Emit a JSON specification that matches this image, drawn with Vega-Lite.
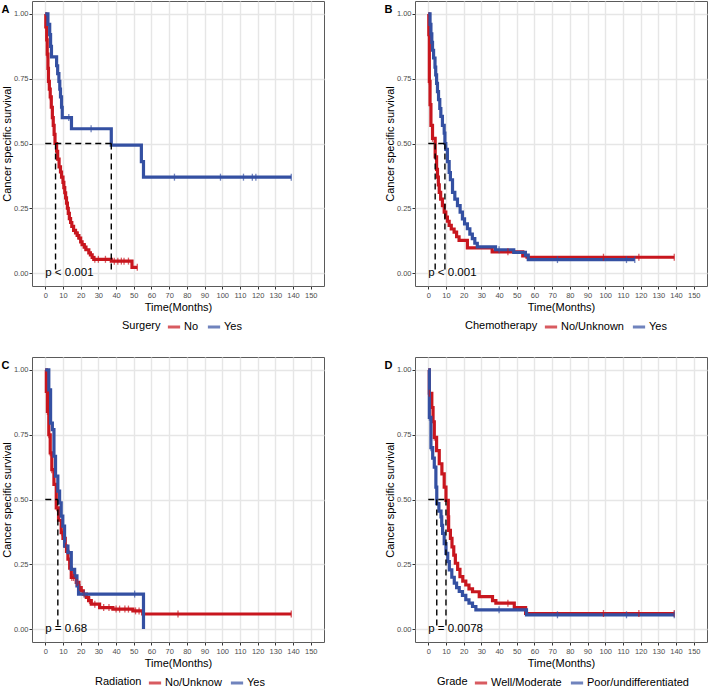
{
"$schema": "https://vega.github.io/schema/vega-lite/v6.json",
"background": "white",
"padding": {"left": 0, "top": 0, "right": 0, "bottom": 0},
"columns": 2,
"spacing": {"row": 22, "column": 58},
"resolve": {"scale": {"color": "independent"}},
"config": {
  "font": "Liberation Sans",
  "view": {"stroke": "#5a5a5a", "strokeWidth": 1},
  "axis": {"domain": false, "gridColor": "#E6E6E6", "tickColor": "#333333", "tickSize": 3, "labelColor": "#4D4D4D", "labelFontSize": 7.5, "titleFontSize": 11, "titleFontWeight": "normal", "titleColor": "black", "labelOverlap": false, "gridWidth": 1.4},
  "axisX": {"labelPadding": 2, "titlePadding": 3, "labelFlush": false},
  "axisY": {"labelPadding": 1, "titlePadding": 1},
  "legend": {"orient": "none", "direction": "horizontal", "titleOrient": "left", "titleFontSize": 11, "titleFontWeight": "normal", "titleColor": "black", "labelFontSize": 11, "labelColor": "black", "symbolType": "stroke", "symbolStrokeWidth": 3, "symbolSize": 150, "columnPadding": 2, "labelOffset": 2, "titlePadding": 5},
  "title": {"anchor": "start", "frame": "bounds", "offset": -14, "fontSize": 11, "fontWeight": "bold", "color": "black"}
},
"datasets": {
  "curves": [
    {"p":"A","g":"No","t":0,"s":1},{"p":"A","g":"No","t":0.3,"s":0.95},{"p":"A","g":"No","t":0.8,"s":0.9},{"p":"A","g":"No","t":1.1,"s":0.845},{"p":"A","g":"No","t":1.5,"s":0.79},{"p":"A","g":"No","t":1.8,"s":0.74},{"p":"A","g":"No","t":2.3,"s":0.71},{"p":"A","g":"No","t":2.8,"s":0.68},{"p":"A","g":"No","t":3.4,"s":0.64},{"p":"A","g":"No","t":4.0,"s":0.6},{"p":"A","g":"No","t":4.5,"s":0.57},{"p":"A","g":"No","t":5.0,"s":0.535},{"p":"A","g":"No","t":5.5,"s":0.5},{"p":"A","g":"No","t":6.4,"s":0.47},{"p":"A","g":"No","t":7.0,"s":0.44},{"p":"A","g":"No","t":7.8,"s":0.41},{"p":"A","g":"No","t":8.6,"s":0.39},{"p":"A","g":"No","t":9.2,"s":0.37},{"p":"A","g":"No","t":10.0,"s":0.35},{"p":"A","g":"No","t":10.5,"s":0.33},{"p":"A","g":"No","t":11.0,"s":0.31},{"p":"A","g":"No","t":11.5,"s":0.29},{"p":"A","g":"No","t":12.0,"s":0.27},{"p":"A","g":"No","t":12.5,"s":0.25},{"p":"A","g":"No","t":13.0,"s":0.23},{"p":"A","g":"No","t":13.6,"s":0.21},{"p":"A","g":"No","t":14.3,"s":0.195},{"p":"A","g":"No","t":15.0,"s":0.18},{"p":"A","g":"No","t":16.0,"s":0.165},{"p":"A","g":"No","t":17.1,"s":0.155},{"p":"A","g":"No","t":18.0,"s":0.145},{"p":"A","g":"No","t":19.0,"s":0.135},{"p":"A","g":"No","t":20.0,"s":0.12},{"p":"A","g":"No","t":20.8,"s":0.11},{"p":"A","g":"No","t":22.0,"s":0.1},{"p":"A","g":"No","t":23.0,"s":0.09},{"p":"A","g":"No","t":24.6,"s":0.078},{"p":"A","g":"No","t":25.5,"s":0.07},{"p":"A","g":"No","t":26.5,"s":0.06},{"p":"A","g":"No","t":27.4,"s":0.053},{"p":"A","g":"No","t":37.3,"s":0.046},{"p":"A","g":"No","t":49.0,"s":0.022},{"p":"A","g":"No","t":52.0,"s":0.022},
    {"p":"A","g":"Yes","t":0,"s":1},{"p":"A","g":"Yes","t":1.5,"s":0.96},{"p":"A","g":"Yes","t":2.5,"s":0.92},{"p":"A","g":"Yes","t":3.0,"s":0.875},{"p":"A","g":"Yes","t":3.5,"s":0.834},{"p":"A","g":"Yes","t":6.4,"s":0.8},{"p":"A","g":"Yes","t":7.0,"s":0.77},{"p":"A","g":"Yes","t":7.7,"s":0.74},{"p":"A","g":"Yes","t":8.2,"s":0.71},{"p":"A","g":"Yes","t":8.6,"s":0.68},{"p":"A","g":"Yes","t":9.2,"s":0.64},{"p":"A","g":"Yes","t":9.6,"s":0.6},{"p":"A","g":"Yes","t":14.8,"s":0.557},{"p":"A","g":"Yes","t":37.3,"s":0.494},{"p":"A","g":"Yes","t":54.3,"s":0.43},{"p":"A","g":"Yes","t":55.5,"s":0.37},{"p":"A","g":"Yes","t":139,"s":0.37},
    {"p":"B","g":"No/Unknown","t":0,"s":1},{"p":"B","g":"No/Unknown","t":0.3,"s":0.92},{"p":"B","g":"No/Unknown","t":0.6,"s":0.74},{"p":"B","g":"No/Unknown","t":1.0,"s":0.65},{"p":"B","g":"No/Unknown","t":1.5,"s":0.57},{"p":"B","g":"No/Unknown","t":2.4,"s":0.52},{"p":"B","g":"No/Unknown","t":3.9,"s":0.448},{"p":"B","g":"No/Unknown","t":4.7,"s":0.4},{"p":"B","g":"No/Unknown","t":5.2,"s":0.37},{"p":"B","g":"No/Unknown","t":5.7,"s":0.34},{"p":"B","g":"No/Unknown","t":6.2,"s":0.311},{"p":"B","g":"No/Unknown","t":7.0,"s":0.285},{"p":"B","g":"No/Unknown","t":8.0,"s":0.26},{"p":"B","g":"No/Unknown","t":9.0,"s":0.235},{"p":"B","g":"No/Unknown","t":9.9,"s":0.216},{"p":"B","g":"No/Unknown","t":10.8,"s":0.2},{"p":"B","g":"No/Unknown","t":11.8,"s":0.184},{"p":"B","g":"No/Unknown","t":13.0,"s":0.17},{"p":"B","g":"No/Unknown","t":14.6,"s":0.158},{"p":"B","g":"No/Unknown","t":16.0,"s":0.14},{"p":"B","g":"No/Unknown","t":17.4,"s":0.126},{"p":"B","g":"No/Unknown","t":22.1,"s":0.097},{"p":"B","g":"No/Unknown","t":36.1,"s":0.082},{"p":"B","g":"No/Unknown","t":53.4,"s":0.066},{"p":"B","g":"No/Unknown","t":55.8,"s":0.061},{"p":"B","g":"No/Unknown","t":139,"s":0.061},
    {"p":"B","g":"Yes","t":0,"s":1},{"p":"B","g":"Yes","t":1.0,"s":0.96},{"p":"B","g":"Yes","t":1.5,"s":0.923},{"p":"B","g":"Yes","t":2.0,"s":0.89},{"p":"B","g":"Yes","t":2.4,"s":0.86},{"p":"B","g":"Yes","t":3.0,"s":0.83},{"p":"B","g":"Yes","t":3.8,"s":0.795},{"p":"B","g":"Yes","t":4.2,"s":0.765},{"p":"B","g":"Yes","t":4.7,"s":0.732},{"p":"B","g":"Yes","t":5.2,"s":0.7},{"p":"B","g":"Yes","t":5.8,"s":0.669},{"p":"B","g":"Yes","t":6.5,"s":0.635},{"p":"B","g":"Yes","t":7.1,"s":0.605},{"p":"B","g":"Yes","t":8.0,"s":0.57},{"p":"B","g":"Yes","t":9.0,"s":0.54},{"p":"B","g":"Yes","t":9.4,"s":0.5},{"p":"B","g":"Yes","t":9.9,"s":0.477},{"p":"B","g":"Yes","t":10.8,"s":0.43},{"p":"B","g":"Yes","t":11.8,"s":0.388},{"p":"B","g":"Yes","t":12.5,"s":0.36},{"p":"B","g":"Yes","t":13.7,"s":0.311},{"p":"B","g":"Yes","t":15.0,"s":0.285},{"p":"B","g":"Yes","t":16.5,"s":0.26},{"p":"B","g":"Yes","t":18.0,"s":0.235},{"p":"B","g":"Yes","t":19.3,"s":0.209},{"p":"B","g":"Yes","t":20.5,"s":0.19},{"p":"B","g":"Yes","t":22.1,"s":0.171},{"p":"B","g":"Yes","t":23.5,"s":0.15},{"p":"B","g":"Yes","t":24.9,"s":0.133},{"p":"B","g":"Yes","t":26.3,"s":0.115},{"p":"B","g":"Yes","t":27.7,"s":0.101},{"p":"B","g":"Yes","t":38,"s":0.09},{"p":"B","g":"Yes","t":48.3,"s":0.08},{"p":"B","g":"Yes","t":54.9,"s":0.069},{"p":"B","g":"Yes","t":56.5,"s":0.052},{"p":"B","g":"Yes","t":116.7,"s":0.052},
    {"p":"C","g":"No/Unknow","t":0,"s":1},{"p":"C","g":"No/Unknow","t":0.6,"s":0.917},{"p":"C","g":"No/Unknow","t":1.2,"s":0.84},{"p":"C","g":"No/Unknow","t":2.0,"s":0.75},{"p":"C","g":"No/Unknow","t":2.8,"s":0.68},{"p":"C","g":"No/Unknow","t":3.7,"s":0.615},{"p":"C","g":"No/Unknow","t":4.9,"s":0.558},{"p":"C","g":"No/Unknow","t":6.2,"s":0.468},{"p":"C","g":"No/Unknow","t":7.5,"s":0.42},{"p":"C","g":"No/Unknow","t":9.0,"s":0.372},{"p":"C","g":"No/Unknow","t":10.0,"s":0.35},{"p":"C","g":"No/Unknow","t":11.3,"s":0.32},{"p":"C","g":"No/Unknow","t":12.0,"s":0.3},{"p":"C","g":"No/Unknow","t":12.8,"s":0.27},{"p":"C","g":"No/Unknow","t":13.8,"s":0.235},{"p":"C","g":"No/Unknow","t":14.7,"s":0.199},{"p":"C","g":"No/Unknow","t":17.5,"s":0.18},{"p":"C","g":"No/Unknow","t":19.0,"s":0.16},{"p":"C","g":"No/Unknow","t":20.3,"s":0.147},{"p":"C","g":"No/Unknow","t":21.5,"s":0.135},{"p":"C","g":"No/Unknow","t":23.2,"s":0.122},{"p":"C","g":"No/Unknow","t":24.5,"s":0.11},{"p":"C","g":"No/Unknow","t":26.0,"s":0.096},{"p":"C","g":"No/Unknow","t":30.7,"s":0.083},{"p":"C","g":"No/Unknow","t":38.2,"s":0.077},{"p":"C","g":"No/Unknow","t":49.5,"s":0.07},{"p":"C","g":"No/Unknow","t":55.1,"s":0.058},{"p":"C","g":"No/Unknow","t":139,"s":0.058},
    {"p":"C","g":"Yes","t":0,"s":1},{"p":"C","g":"Yes","t":2.0,"s":0.923},{"p":"C","g":"Yes","t":3.0,"s":0.795},{"p":"C","g":"Yes","t":4.0,"s":0.77},{"p":"C","g":"Yes","t":4.9,"s":0.667},{"p":"C","g":"Yes","t":5.8,"s":0.59},{"p":"C","g":"Yes","t":7.1,"s":0.532},{"p":"C","g":"Yes","t":8.1,"s":0.487},{"p":"C","g":"Yes","t":9.0,"s":0.436},{"p":"C","g":"Yes","t":9.9,"s":0.397},{"p":"C","g":"Yes","t":10.9,"s":0.32},{"p":"C","g":"Yes","t":12.8,"s":0.295},{"p":"C","g":"Yes","t":14.7,"s":0.23},{"p":"C","g":"Yes","t":16.6,"s":0.205},{"p":"C","g":"Yes","t":17.9,"s":0.167},{"p":"C","g":"Yes","t":18.8,"s":0.135},{"p":"C","g":"Yes","t":55.5,"s":0},
    {"p":"D","g":"Well/Moderate","t":0,"s":1},{"p":"D","g":"Well/Moderate","t":0.6,"s":0.91},{"p":"D","g":"Well/Moderate","t":2.0,"s":0.855},{"p":"D","g":"Well/Moderate","t":2.7,"s":0.8},{"p":"D","g":"Well/Moderate","t":3.4,"s":0.74},{"p":"D","g":"Well/Moderate","t":4.7,"s":0.689},{"p":"D","g":"Well/Moderate","t":6.2,"s":0.638},{"p":"D","g":"Well/Moderate","t":7.7,"s":0.599},{"p":"D","g":"Well/Moderate","t":9.0,"s":0.548},{"p":"D","g":"Well/Moderate","t":10.0,"s":0.497},{"p":"D","g":"Well/Moderate","t":11.3,"s":0.433},{"p":"D","g":"Well/Moderate","t":11.5,"s":0.381},{"p":"D","g":"Well/Moderate","t":12.5,"s":0.35},{"p":"D","g":"Well/Moderate","t":13.4,"s":0.317},{"p":"D","g":"Well/Moderate","t":14.4,"s":0.285},{"p":"D","g":"Well/Moderate","t":15.3,"s":0.254},{"p":"D","g":"Well/Moderate","t":16.6,"s":0.23},{"p":"D","g":"Well/Moderate","t":17.9,"s":0.202},{"p":"D","g":"Well/Moderate","t":19.5,"s":0.185},{"p":"D","g":"Well/Moderate","t":21.2,"s":0.17},{"p":"D","g":"Well/Moderate","t":23.0,"s":0.155},{"p":"D","g":"Well/Moderate","t":25.0,"s":0.144},{"p":"D","g":"Well/Moderate","t":28.8,"s":0.125},{"p":"D","g":"Well/Moderate","t":36.3,"s":0.11},{"p":"D","g":"Well/Moderate","t":38.2,"s":0.1},{"p":"D","g":"Well/Moderate","t":48.6,"s":0.083},{"p":"D","g":"Well/Moderate","t":55.0,"s":0.06},{"p":"D","g":"Well/Moderate","t":139,"s":0.06},
    {"p":"D","g":"Poor/undifferentiated","t":0,"s":1},{"p":"D","g":"Poor/undifferentiated","t":0.6,"s":0.817},{"p":"D","g":"Poor/undifferentiated","t":1.5,"s":0.7},{"p":"D","g":"Poor/undifferentiated","t":2.5,"s":0.66},{"p":"D","g":"Poor/undifferentiated","t":3.4,"s":0.625},{"p":"D","g":"Poor/undifferentiated","t":4.3,"s":0.548},{"p":"D","g":"Poor/undifferentiated","t":4.8,"s":0.484},{"p":"D","g":"Poor/undifferentiated","t":6.0,"s":0.455},{"p":"D","g":"Poor/undifferentiated","t":7.2,"s":0.433},{"p":"D","g":"Poor/undifferentiated","t":7.6,"s":0.4},{"p":"D","g":"Poor/undifferentiated","t":8.1,"s":0.369},{"p":"D","g":"Poor/undifferentiated","t":9.0,"s":0.33},{"p":"D","g":"Poor/undifferentiated","t":10.0,"s":0.292},{"p":"D","g":"Poor/undifferentiated","t":11.0,"s":0.26},{"p":"D","g":"Poor/undifferentiated","t":11.9,"s":0.228},{"p":"D","g":"Poor/undifferentiated","t":13.3,"s":0.2},{"p":"D","g":"Poor/undifferentiated","t":14.7,"s":0.177},{"p":"D","g":"Poor/undifferentiated","t":16.0,"s":0.16},{"p":"D","g":"Poor/undifferentiated","t":17.5,"s":0.145},{"p":"D","g":"Poor/undifferentiated","t":19.3,"s":0.13},{"p":"D","g":"Poor/undifferentiated","t":21.2,"s":0.113},{"p":"D","g":"Poor/undifferentiated","t":23.0,"s":0.1},{"p":"D","g":"Poor/undifferentiated","t":25.0,"s":0.087},{"p":"D","g":"Poor/undifferentiated","t":26.9,"s":0.074},{"p":"D","g":"Poor/undifferentiated","t":55.5,"s":0.055},{"p":"D","g":"Poor/undifferentiated","t":139,"s":0.055}
  ],
  "censor": [
    {"p":"A","g":"No","t":1.1,"s":0.845},{"p":"A","g":"No","t":1.8,"s":0.74},{"p":"A","g":"No","t":2.8,"s":0.68},{"p":"A","g":"No","t":10.2,"s":0.35},{"p":"A","g":"No","t":13.3,"s":0.23},{"p":"A","g":"No","t":18.5,"s":0.145},{"p":"A","g":"No","t":22.5,"s":0.1},{"p":"A","g":"No","t":28,"s":0.053},{"p":"A","g":"No","t":30,"s":0.053},{"p":"A","g":"No","t":34,"s":0.053},{"p":"A","g":"No","t":39,"s":0.046},{"p":"A","g":"No","t":41,"s":0.046},{"p":"A","g":"No","t":43,"s":0.046},{"p":"A","g":"No","t":44.5,"s":0.046},{"p":"A","g":"No","t":47,"s":0.046},{"p":"A","g":"No","t":52,"s":0.022},
    {"p":"A","g":"Yes","t":13.3,"s":0.6},{"p":"A","g":"Yes","t":25.9,"s":0.557},{"p":"A","g":"Yes","t":73,"s":0.37},{"p":"A","g":"Yes","t":99,"s":0.37},{"p":"A","g":"Yes","t":112,"s":0.37},{"p":"A","g":"Yes","t":117,"s":0.37},{"p":"A","g":"Yes","t":119,"s":0.37},{"p":"A","g":"Yes","t":139,"s":0.37},
    {"p":"B","g":"No/Unknown","t":0.6,"s":0.74},{"p":"B","g":"No/Unknown","t":2.4,"s":0.52},{"p":"B","g":"No/Unknown","t":45,"s":0.082},{"p":"B","g":"No/Unknown","t":99,"s":0.061},{"p":"B","g":"No/Unknown","t":119,"s":0.061},{"p":"B","g":"No/Unknown","t":139,"s":0.061},
    {"p":"B","g":"Yes","t":1.5,"s":0.923},{"p":"B","g":"Yes","t":40,"s":0.09},{"p":"B","g":"Yes","t":73,"s":0.052},{"p":"B","g":"Yes","t":112,"s":0.052},{"p":"B","g":"Yes","t":116.7,"s":0.052},
    {"p":"C","g":"No/Unknow","t":1.2,"s":0.84},{"p":"C","g":"No/Unknow","t":2.0,"s":0.75},{"p":"C","g":"No/Unknow","t":2.8,"s":0.68},{"p":"C","g":"No/Unknow","t":3.7,"s":0.615},{"p":"C","g":"No/Unknow","t":6.5,"s":0.468},{"p":"C","g":"No/Unknow","t":9.5,"s":0.372},{"p":"C","g":"No/Unknow","t":11.5,"s":0.32},{"p":"C","g":"No/Unknow","t":15,"s":0.199},{"p":"C","g":"No/Unknow","t":16,"s":0.199},{"p":"C","g":"No/Unknow","t":18,"s":0.18},{"p":"C","g":"No/Unknow","t":19.5,"s":0.16},{"p":"C","g":"No/Unknow","t":22,"s":0.135},{"p":"C","g":"No/Unknow","t":25,"s":0.11},{"p":"C","g":"No/Unknow","t":28,"s":0.096},{"p":"C","g":"No/Unknow","t":33,"s":0.083},{"p":"C","g":"No/Unknow","t":36,"s":0.083},{"p":"C","g":"No/Unknow","t":40,"s":0.077},{"p":"C","g":"No/Unknow","t":42,"s":0.077},{"p":"C","g":"No/Unknow","t":45,"s":0.077},{"p":"C","g":"No/Unknow","t":47,"s":0.077},{"p":"C","g":"No/Unknow","t":51,"s":0.07},{"p":"C","g":"No/Unknow","t":53,"s":0.07},{"p":"C","g":"No/Unknow","t":75,"s":0.058},{"p":"C","g":"No/Unknow","t":139,"s":0.058},
    {"p":"C","g":"Yes","t":22,"s":0.135},{"p":"C","g":"Yes","t":50.5,"s":0.135},
    {"p":"D","g":"Well/Moderate","t":0.6,"s":0.91},{"p":"D","g":"Well/Moderate","t":3.4,"s":0.74},{"p":"D","g":"Well/Moderate","t":45,"s":0.1},{"p":"D","g":"Well/Moderate","t":99,"s":0.06},{"p":"D","g":"Well/Moderate","t":119,"s":0.06},{"p":"D","g":"Well/Moderate","t":139,"s":0.06},
    {"p":"D","g":"Poor/undifferentiated","t":0.6,"s":0.817},{"p":"D","g":"Poor/undifferentiated","t":1.5,"s":0.7},{"p":"D","g":"Poor/undifferentiated","t":40,"s":0.074},{"p":"D","g":"Poor/undifferentiated","t":73,"s":0.055},{"p":"D","g":"Poor/undifferentiated","t":112,"s":0.055},{"p":"D","g":"Poor/undifferentiated","t":139,"s":0.055}
  ],
  "medians": [
    {"p":"A","t1":0,"t2":37.3,"s1":0.5,"s2":0.5},{"p":"A","t1":5.8,"t2":5.8,"s1":0.5,"s2":0},{"p":"A","t1":37.3,"t2":37.3,"s1":0.5,"s2":0},
    {"p":"B","t1":0,"t2":9.4,"s1":0.5,"s2":0.5},{"p":"B","t1":3.9,"t2":3.9,"s1":0.5,"s2":0},{"p":"B","t1":9.4,"t2":9.4,"s1":0.5,"s2":0},
    {"p":"C","t1":0,"t2":7.1,"s1":0.5,"s2":0.5},{"p":"C","t1":7.1,"t2":7.1,"s1":0.5,"s2":0},
    {"p":"D","t1":0,"t2":10,"s1":0.5,"s2":0.5},{"p":"D","t1":4.8,"t2":4.8,"s1":0.5,"s2":0},{"p":"D","t1":10,"t2":10,"s1":0.5,"s2":0}
  ],
  "pv": [
    {"p":"A","label":"p < 0.001"},{"p":"B","label":"p < 0.001"},{"p":"C","label":"p = 0.68"},{"p":"D","label":"p = 0.0078"}
  ]
},
"concat": [
  {
    "width": 292, "height": 285, "title": {"text": "A"},
    "resolve": {"axis": {"x": "independent"}},
    "layer": [
      {"data": {"name": "curves"}, "transform": [{"filter": "datum.p === 'A'"}],
       "mark": {"type": "line", "interpolate": "step-after", "strokeWidth": 3.2},
       "encoding": {
         "x": {"field": "t", "type": "quantitative", "scale": {"domain": [-7.5, 157.5], "nice": false, "zero": false},
               "axis": {"title": "Time(Months)", "values": [0,10,20,30,40,50,60,70,80,90,100,110,120,130,140,150]}},
         "y": {"field": "s", "type": "quantitative", "scale": {"domain": [-0.05, 1.05], "nice": false, "zero": false},
               "axis": {"title": "Cancer specific survival", "values": [0,0.125,0.25,0.375,0.5,0.625,0.75,0.875,1], "format": ".2f", "labelExpr": "(datum.value*4) % 1 === 0 ? datum.label : ''", "tickOpacity": {"condition": {"test": "(datum.value*4) % 1 === 0", "value": 1}, "value": 0}, "gridWidth": {"condition": {"test": "(datum.value*4) % 1 === 0", "value": 1.4}, "value": 0.8}}},
         "color": {"field": "g", "type": "nominal", "scale": {"domain": ["No", "Yes"], "range": ["#C8161E", "#3450A2"]}, "legend": {"title": "Surgery", "legendX": 90, "legendY": 318}}
       }},
      {"data": {"name": "censor"}, "transform": [{"filter": "datum.p === 'A'"}],
       "mark": {"type": "tick", "orient": "vertical", "size": 7, "thickness": 1.3},
       "encoding": {"x": {"field": "t", "type": "quantitative", "axis": {"orient": "top", "values": [5,15,25,35,45,55,65,75,85,95,105,115,125,135,145], "labels": false, "ticks": false, "title": null, "gridWidth": 0.8}}, "y": {"field": "s", "type": "quantitative"}, "color": {"field": "g", "type": "nominal"}}},
      {"data": {"name": "medians"}, "transform": [{"filter": "datum.p === 'A'"}],
       "mark": {"type": "rule", "strokeDash": [6, 4], "strokeWidth": 1.4, "color": "black"},
       "encoding": {"x": {"field": "t1", "type": "quantitative", "axis": null}, "x2": {"field": "t2"}, "y": {"field": "s1", "type": "quantitative"}, "y2": {"field": "s2"}}},
      {"data": {"name": "pv"}, "transform": [{"filter": "datum.p === 'A'"}],
       "mark": {"type": "text", "align": "left", "baseline": "middle", "fontSize": 11.5, "color": "black"},
       "encoding": {"x": {"datum": 0, "type": "quantitative", "axis": null}, "y": {"datum": 0, "type": "quantitative"}, "text": {"field": "label"}}}
    ]
  },
  {
    "width": 292, "height": 285, "title": {"text": "B"},
    "resolve": {"axis": {"x": "independent"}},
    "layer": [
      {"data": {"name": "curves"}, "transform": [{"filter": "datum.p === 'B'"}],
       "mark": {"type": "line", "interpolate": "step-after", "strokeWidth": 3.2},
       "encoding": {
         "x": {"field": "t", "type": "quantitative", "scale": {"domain": [-7.5, 157.5], "nice": false, "zero": false},
               "axis": {"title": "Time(Months)", "values": [0,10,20,30,40,50,60,70,80,90,100,110,120,130,140,150]}},
         "y": {"field": "s", "type": "quantitative", "scale": {"domain": [-0.05, 1.05], "nice": false, "zero": false},
               "axis": {"title": "Cancer specific survival", "values": [0,0.125,0.25,0.375,0.5,0.625,0.75,0.875,1], "format": ".2f", "labelExpr": "(datum.value*4) % 1 === 0 ? datum.label : ''", "tickOpacity": {"condition": {"test": "(datum.value*4) % 1 === 0", "value": 1}, "value": 0}, "gridWidth": {"condition": {"test": "(datum.value*4) % 1 === 0", "value": 1.4}, "value": 0.8}}},
         "color": {"field": "g", "type": "nominal", "scale": {"domain": ["No/Unknown", "Yes"], "range": ["#C8161E", "#3450A2"]}, "legend": {"title": "Chemotherapy", "legendX": 50, "legendY": 318}}
       }},
      {"data": {"name": "censor"}, "transform": [{"filter": "datum.p === 'B'"}],
       "mark": {"type": "tick", "orient": "vertical", "size": 7, "thickness": 1.3},
       "encoding": {"x": {"field": "t", "type": "quantitative", "axis": {"orient": "top", "values": [5,15,25,35,45,55,65,75,85,95,105,115,125,135,145], "labels": false, "ticks": false, "title": null, "gridWidth": 0.8}}, "y": {"field": "s", "type": "quantitative"}, "color": {"field": "g", "type": "nominal"}}},
      {"data": {"name": "medians"}, "transform": [{"filter": "datum.p === 'B'"}],
       "mark": {"type": "rule", "strokeDash": [6, 4], "strokeWidth": 1.4, "color": "black"},
       "encoding": {"x": {"field": "t1", "type": "quantitative", "axis": null}, "x2": {"field": "t2"}, "y": {"field": "s1", "type": "quantitative"}, "y2": {"field": "s2"}}},
      {"data": {"name": "pv"}, "transform": [{"filter": "datum.p === 'B'"}],
       "mark": {"type": "text", "align": "left", "baseline": "middle", "fontSize": 11.5, "color": "black"},
       "encoding": {"x": {"datum": 0, "type": "quantitative", "axis": null}, "y": {"datum": 0, "type": "quantitative"}, "text": {"field": "label"}}}
    ]
  },
  {
    "width": 292, "height": 285, "title": {"text": "C"},
    "resolve": {"axis": {"x": "independent"}},
    "layer": [
      {"data": {"name": "curves"}, "transform": [{"filter": "datum.p === 'C'"}],
       "mark": {"type": "line", "interpolate": "step-after", "strokeWidth": 3.2},
       "encoding": {
         "x": {"field": "t", "type": "quantitative", "scale": {"domain": [-7.5, 157.5], "nice": false, "zero": false},
               "axis": {"title": "Time(Months)", "values": [0,10,20,30,40,50,60,70,80,90,100,110,120,130,140,150]}},
         "y": {"field": "s", "type": "quantitative", "scale": {"domain": [-0.05, 1.05], "nice": false, "zero": false},
               "axis": {"title": "Cancer specific survival", "values": [0,0.125,0.25,0.375,0.5,0.625,0.75,0.875,1], "format": ".2f", "labelExpr": "(datum.value*4) % 1 === 0 ? datum.label : ''", "tickOpacity": {"condition": {"test": "(datum.value*4) % 1 === 0", "value": 1}, "value": 0}, "gridWidth": {"condition": {"test": "(datum.value*4) % 1 === 0", "value": 1.4}, "value": 0.8}}},
         "color": {"field": "g", "type": "nominal", "scale": {"domain": ["No/Unknow", "Yes"], "range": ["#C8161E", "#3450A2"]}, "legend": {"title": "Radiation", "legendX": 63, "legendY": 318}}
       }},
      {"data": {"name": "censor"}, "transform": [{"filter": "datum.p === 'C'"}],
       "mark": {"type": "tick", "orient": "vertical", "size": 7, "thickness": 1.3},
       "encoding": {"x": {"field": "t", "type": "quantitative", "axis": {"orient": "top", "values": [5,15,25,35,45,55,65,75,85,95,105,115,125,135,145], "labels": false, "ticks": false, "title": null, "gridWidth": 0.8}}, "y": {"field": "s", "type": "quantitative"}, "color": {"field": "g", "type": "nominal"}}},
      {"data": {"name": "medians"}, "transform": [{"filter": "datum.p === 'C'"}],
       "mark": {"type": "rule", "strokeDash": [6, 4], "strokeWidth": 1.4, "color": "black"},
       "encoding": {"x": {"field": "t1", "type": "quantitative", "axis": null}, "x2": {"field": "t2"}, "y": {"field": "s1", "type": "quantitative"}, "y2": {"field": "s2"}}},
      {"data": {"name": "pv"}, "transform": [{"filter": "datum.p === 'C'"}],
       "mark": {"type": "text", "align": "left", "baseline": "middle", "fontSize": 11.5, "color": "black"},
       "encoding": {"x": {"datum": 0, "type": "quantitative", "axis": null}, "y": {"datum": 0, "type": "quantitative"}, "text": {"field": "label"}}}
    ]
  },
  {
    "width": 292, "height": 285, "title": {"text": "D"},
    "resolve": {"axis": {"x": "independent"}},
    "layer": [
      {"data": {"name": "curves"}, "transform": [{"filter": "datum.p === 'D'"}],
       "mark": {"type": "line", "interpolate": "step-after", "strokeWidth": 3.2},
       "encoding": {
         "x": {"field": "t", "type": "quantitative", "scale": {"domain": [-7.5, 157.5], "nice": false, "zero": false},
               "axis": {"title": "Time(Months)", "values": [0,10,20,30,40,50,60,70,80,90,100,110,120,130,140,150]}},
         "y": {"field": "s", "type": "quantitative", "scale": {"domain": [-0.05, 1.05], "nice": false, "zero": false},
               "axis": {"title": "Cancer specific survival", "values": [0,0.125,0.25,0.375,0.5,0.625,0.75,0.875,1], "format": ".2f", "labelExpr": "(datum.value*4) % 1 === 0 ? datum.label : ''", "tickOpacity": {"condition": {"test": "(datum.value*4) % 1 === 0", "value": 1}, "value": 0}, "gridWidth": {"condition": {"test": "(datum.value*4) % 1 === 0", "value": 1.4}, "value": 0.8}}},
         "color": {"field": "g", "type": "nominal", "scale": {"domain": ["Well/Moderate", "Poor/undifferentiated"], "range": ["#C8161E", "#3450A2"]}, "legend": {"title": "Grade", "legendX": 22, "legendY": 318}}
       }},
      {"data": {"name": "censor"}, "transform": [{"filter": "datum.p === 'D'"}],
       "mark": {"type": "tick", "orient": "vertical", "size": 7, "thickness": 1.3},
       "encoding": {"x": {"field": "t", "type": "quantitative", "axis": {"orient": "top", "values": [5,15,25,35,45,55,65,75,85,95,105,115,125,135,145], "labels": false, "ticks": false, "title": null, "gridWidth": 0.8}}, "y": {"field": "s", "type": "quantitative"}, "color": {"field": "g", "type": "nominal"}}},
      {"data": {"name": "medians"}, "transform": [{"filter": "datum.p === 'D'"}],
       "mark": {"type": "rule", "strokeDash": [6, 4], "strokeWidth": 1.4, "color": "black"},
       "encoding": {"x": {"field": "t1", "type": "quantitative", "axis": null}, "x2": {"field": "t2"}, "y": {"field": "s1", "type": "quantitative"}, "y2": {"field": "s2"}}},
      {"data": {"name": "pv"}, "transform": [{"filter": "datum.p === 'D'"}],
       "mark": {"type": "text", "align": "left", "baseline": "middle", "fontSize": 11.5, "color": "black"},
       "encoding": {"x": {"datum": 0, "type": "quantitative", "axis": null}, "y": {"datum": 0, "type": "quantitative"}, "text": {"field": "label"}}}
    ]
  }
]
}
